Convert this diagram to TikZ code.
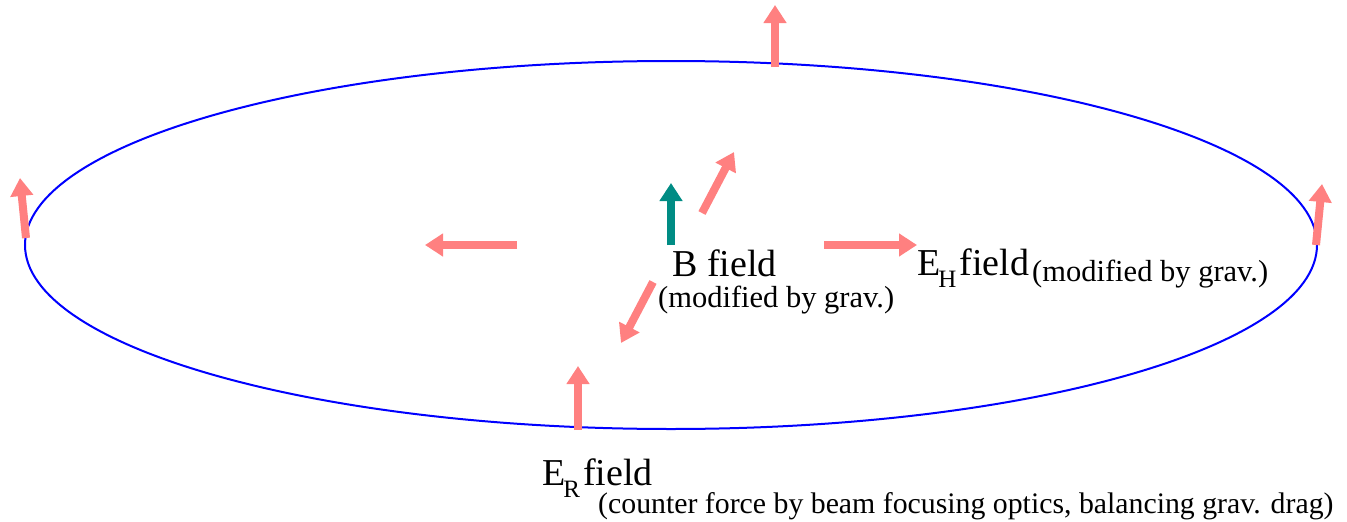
\documentclass[tikz,border=0pt]{standalone}
\usepackage{fontspec}
\setmainfont{Liberation Serif}
\usetikzlibrary{arrows.meta,shapes.geometric}
\definecolor{pinkarrow}{RGB}{255,128,128}
\definecolor{tealarrow}{RGB}{0,140,132}
\newcommand{\lowsub}[1]{\kern-2pt\raisebox{-12pt}{\fontsize{25}{26}\selectfont #1}}
\tikzset{
  fieldarrow/.style={draw=pinkarrow, line width=8pt, -{Triangle[width=22pt,length=18pt]}},
  barrow/.style={draw=tealarrow, line width=8pt, -{Triangle[width=22pt,length=18pt]}},
  bigtxt/.style={inner sep=0pt, anchor=base west, font=\fontsize{38}{40}\selectfont},
  smalltxt/.style={inner sep=0pt, anchor=base west, font=\fontsize{30.5}{32}\selectfont},
  ring/.style={draw=blue, line width=2pt, ellipse, inner sep=0pt, outer sep=0pt}
}
\begin{document}
\begin{tikzpicture}[x=1pt,y=-1pt]
\useasboundingbox (0,0) rectangle (1347,522);
\node[ring, minimum width=1292pt, minimum height=368pt] (ring) at (671,245) {};
% coordinates
\coordinate (topT) at (775,67);  \coordinate (topH) at (775,5);
\coordinate (lT) at (26,238);    \coordinate (lH) at (20,178);
\coordinate (rT) at (1316,245);  \coordinate (rH) at (1322,184);
\coordinate (mlT) at (517,245);  \coordinate (mlH) at (425,245);
\coordinate (mrT) at (824,245);  \coordinate (mrH) at (917,245);
\coordinate (bT) at (671,245);   \coordinate (bH) at (671,183);
\coordinate (urT) at (702,213);  \coordinate (urH) at (734,152);
\coordinate (llT) at (653,282);  \coordinate (llH) at (621,343);
\coordinate (botT) at (578,430); \coordinate (botH) at (578,366);
\draw[fieldarrow] (topT) -- (topH);
\draw[fieldarrow] (lT) -- (lH);
\draw[fieldarrow] (rT) -- (rH);
\draw[fieldarrow] (mlT) -- (mlH);
\draw[fieldarrow] (mrT) -- (mrH);
\draw[fieldarrow] (urT) -- (urH);
\draw[fieldarrow] (llT) -- (llH);
\draw[fieldarrow] (botT) -- (botH);
\draw[barrow] (bT) -- (bH);
% texts
\node[bigtxt] (B) at (672,276) {B field};
\node[smalltxt] (Bm) at (658,307) {(modified by grav.)};
\node[bigtxt] (EH) at (917,275) {E\lowsub{H}\kern3pt field};
\node[smalltxt] (EHm) at (1032,281) {(modified by grav.)};
\node[bigtxt] (ER) at (542,485) {E\lowsub{R}\kern3pt field};
\node[smalltxt, font=\fontsize{29.8}{32}\selectfont] (ERm) at (598,513) {(counter force by beam focusing optics, balancing grav. drag)};
\end{tikzpicture}
\end{document}
